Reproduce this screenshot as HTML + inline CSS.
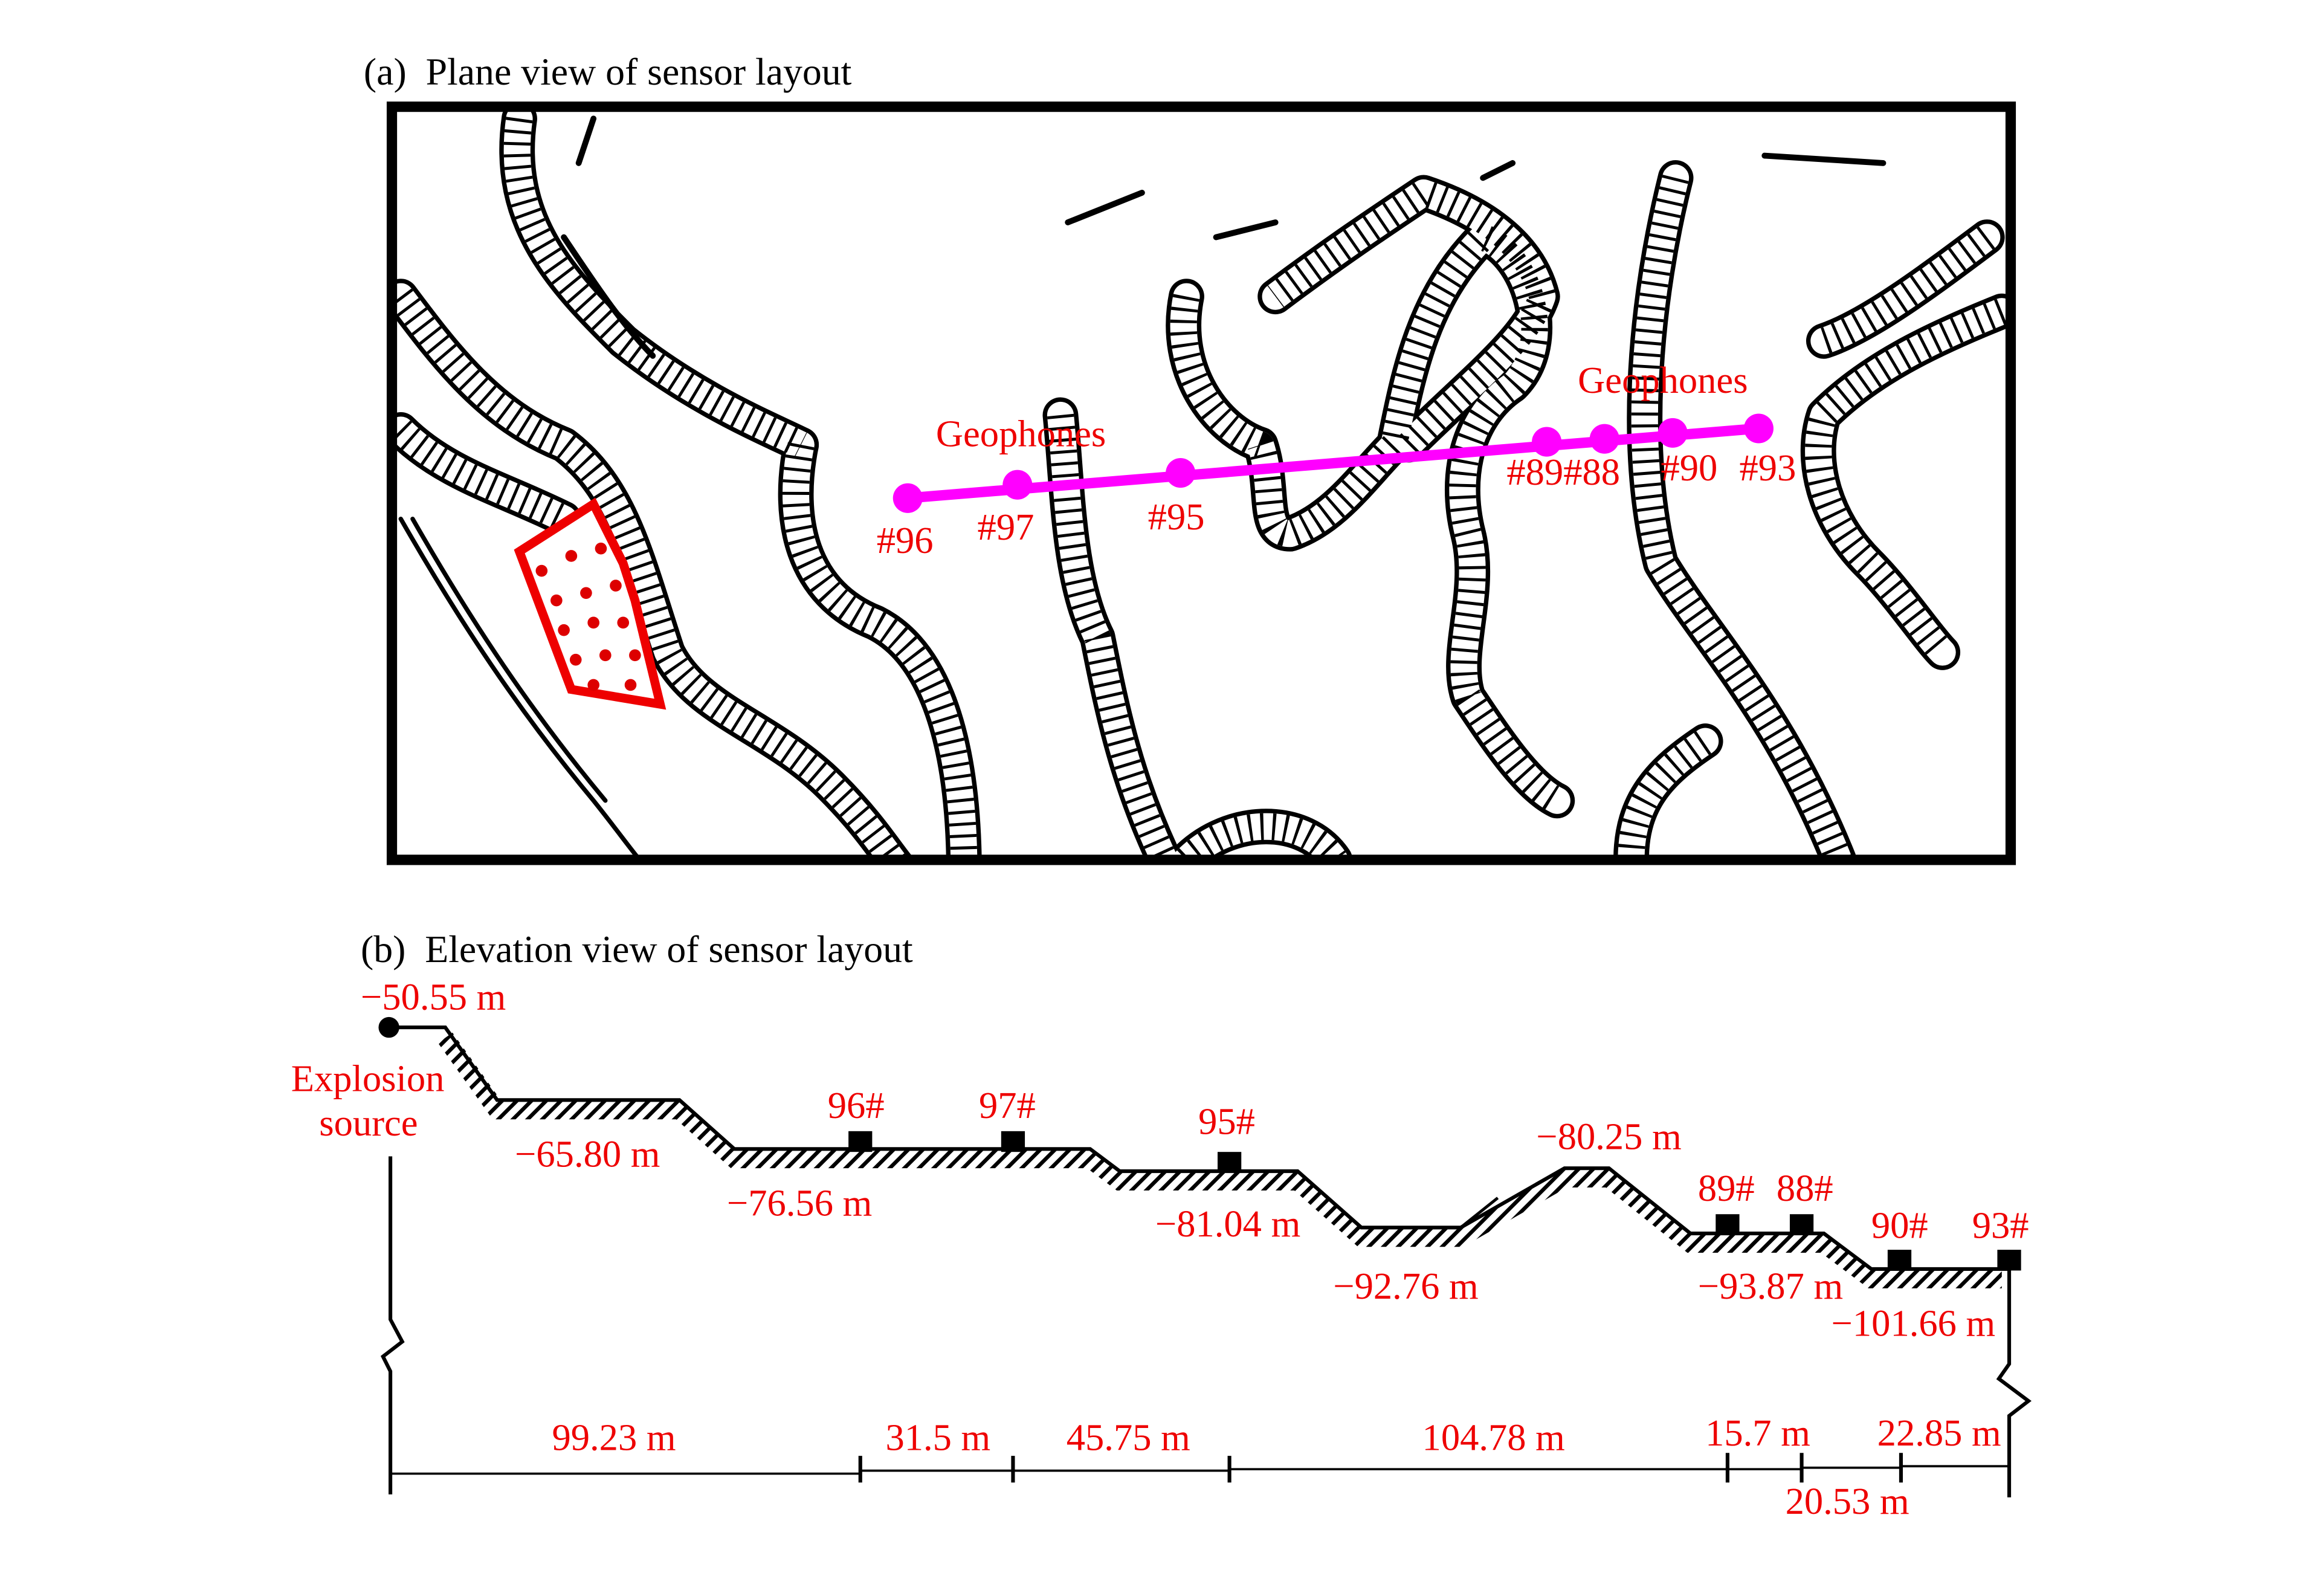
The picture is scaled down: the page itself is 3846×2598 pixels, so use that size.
<!DOCTYPE html>
<html><head><meta charset="utf-8"><style>
html,body{margin:0;padding:0;background:#fff;width:3846px;height:2598px;overflow:hidden}
svg{display:block}
text{font-family:"Liberation Serif",serif;white-space:pre}
</style></head><body>
<svg width="3846" height="2598" viewBox="0 0 1567 1059" xmlns="http://www.w3.org/2000/svg">
<defs>
<pattern id="diag" width="7" height="7" patternUnits="userSpaceOnUse" patternTransform="rotate(45)">
<rect width="7" height="7" fill="#fff"/><rect width="2.6" height="7" fill="#000"/></pattern>
<clipPath id="frame"><rect x="266" y="74" width="1088" height="504"/></clipPath>
</defs>
<rect width="1567" height="1059" fill="#fff"/>
<text x="245" y="57" font-size="26" xml:space="preserve">(a)  Plane view of sensor layout</text>
<g clip-path="url(#frame)" fill="none" stroke-linejoin="round" stroke-linecap="round">
<g id="bands">
<path d="M350,80 C340,150 380,190 420,230 C470,270 520,290 540,300"/>
<path d="M270,200 C300,240 330,280 380,300 C420,330 430,380 450,440 C470,480 520,490 560,530 C590,560 600,580 610,590"/>
<path d="M270,290 C300,320 340,330 380,350"/>
<path d="M540,300 C530,350 540,400 590,420 C630,440 650,500 650,590"/>
<path d="M715,280 C720,330 720,390 740,430 C750,480 760,530 790,590"/>
<path d="M800,200 C790,250 820,290 850,300 C860,330 850,360 870,360 C900,350 920,320 940,300 C950,250 960,200 1000,160 C1030,170 1050,230 1020,260 C990,280 980,320 990,360 C1000,400 980,440 990,470 C1010,500 1030,530 1050,540"/>
<path d="M1130,120 C1110,200 1100,300 1120,380 C1150,430 1200,480 1240,580"/>
<path d="M1350,210 C1300,230 1260,250 1230,280 C1220,310 1230,350 1260,380 C1280,400 1300,430 1310,440"/>
<path d="M1340,160 C1300,190 1260,220 1230,230"/>
<path d="M950,300 C990,260 1030,230 1040,200 C1030,160 990,140 960,130 C930,150 900,170 860,200"/>
<path d="M800,580 C830,550 880,550 900,580"/>
<path d="M1100,580 C1100,540 1120,520 1150,500"/>
</g>
<use href="#bands" stroke="#000" stroke-width="24"/>
<use href="#bands" stroke="#fff" stroke-width="18"/>
<use href="#bands" stroke="#000" stroke-width="18" stroke-dasharray="2 6" stroke-linecap="butt"/>
<path d="M400,80 L390,110 M380,160 C400,190 420,220 440,240 M720,150 L770,130 M820,160 L860,150 M1000,120 L1020,110 M1190,105 L1270,110" stroke="#000" stroke-width="4"/>
<path d="M270,350 C310,420 350,480 400,540 C420,565 430,580 440,590" stroke="#000" stroke-width="3"/>
<path d="M278,350 C318,420 358,480 408,540" stroke="#000" stroke-width="3"/>
</g>
<polygon points="350,372 400,340 420,380 428,405 445,475 385,465" fill="#fff" stroke="#e00" stroke-width="6"/>
<g fill="#d00">
<circle cx="365" cy="385" r="4"/><circle cx="385" cy="375" r="4"/><circle cx="405" cy="370" r="4"/>
<circle cx="375" cy="405" r="4"/><circle cx="395" cy="400" r="4"/><circle cx="415" cy="395" r="4"/>
<circle cx="380" cy="425" r="4"/><circle cx="400" cy="420" r="4"/><circle cx="420" cy="420" r="4"/>
<circle cx="388" cy="445" r="4"/><circle cx="408" cy="442" r="4"/><circle cx="428" cy="442" r="4"/>
<circle cx="400" cy="462" r="4"/><circle cx="425" cy="462" r="4"/>
</g>
<rect x="264" y="72" width="1092" height="508" fill="none" stroke="#000" stroke-width="7"/>
<line x1="612" y1="336" x2="1186" y2="289" stroke="#f0f" stroke-width="7"/>
<g fill="#f0f">
<circle cx="612" cy="336" r="10"/><circle cx="686" cy="327" r="10"/><circle cx="796" cy="319" r="10"/>
<circle cx="1043" cy="298" r="10"/><circle cx="1082" cy="296" r="10"/><circle cx="1128" cy="292" r="10"/><circle cx="1186" cy="289" r="10"/>
</g>
<g fill="#e00" font-size="25.5">
<text x="631" y="301">Geophones</text><text x="1064" y="265">Geophones</text>
<text x="591" y="373">#96</text><text x="659" y="364">#97</text><text x="774" y="357">#95</text>
<text x="1016" y="327">#89#88</text><text x="1120" y="324">#90</text><text x="1173" y="324">#93</text>
</g>
<text x="243" y="649" font-size="26" xml:space="preserve">(b)  Elevation view of sensor layout</text>
<g fill="none">
<polyline points="300,700 335,749 458,749 495,782 735,782 755,797 875,797 918,835 985,835 1055,795 1085,795 1140,839 1230,839 1262,863 1350,863" stroke="url(#diag)" stroke-width="12"/>
<polyline points="262,693 300,693 335,742 458,742 495,775 735,775 755,790 875,790 918,828 985,828 1055,788 1085,788 1140,832 1230,832 1262,856 1355,856" stroke="#000" stroke-width="2.5"/>
<path d="M985,828 L1010,808" stroke="#000" stroke-width="2"/>
</g>
<circle cx="262" cy="693" r="7" fill="#000"/>
<g fill="#000"><rect x="572" y="763" width="16" height="14"/><rect x="675" y="763" width="16" height="14"/><rect x="821" y="777" width="16" height="14"/><rect x="1157" y="819" width="16" height="14"/><rect x="1207" y="819" width="16" height="14"/><rect x="1273" y="843" width="16" height="14"/><rect x="1347" y="843" width="16" height="14"/></g>
<g fill="none" stroke="#000" stroke-width="2.5">
<path d="M263,780 L263,890 L271,905 L258,915 L263,925 L263,1008"/>
<path d="M1355,856 L1355,920 L1348,930 L1368,945 L1355,955 L1355,1010"/>
</g>
<g stroke="#000" stroke-width="1.5" fill="none">
<line x1="263" y1="994" x2="580" y2="994"/><line x1="580" y1="992" x2="683" y2="992"/><line x1="683" y1="992" x2="829" y2="992"/>
<line x1="829" y1="991" x2="1165" y2="991"/><line x1="1165" y1="991" x2="1215" y2="991"/><line x1="1215" y1="990" x2="1282" y2="990"/><line x1="1282" y1="989" x2="1355" y2="989"/>
</g>
<g stroke="#000" stroke-width="2.5">
<line x1="580" y1="982" x2="580" y2="1000"/><line x1="683" y1="982" x2="683" y2="1000"/><line x1="829" y1="982" x2="829" y2="1000"/>
<line x1="1165" y1="980" x2="1165" y2="1000"/><line x1="1215" y1="980" x2="1215" y2="1000"/><line x1="1282" y1="980" x2="1282" y2="1000"/>
</g>
<g fill="#e00" font-size="25.5">
<text x="243" y="681">−50.55 m</text>
<text x="196" y="736">Explosion</text><text x="215" y="766">source</text>
<text x="347" y="787">−65.80 m</text><text x="490" y="820">−76.56 m</text><text x="779" y="834">−81.04 m</text>
<text x="899" y="876">−92.76 m</text><text x="1036" y="775">−80.25 m</text><text x="1145" y="876">−93.87 m</text><text x="1235" y="901">−101.66 m</text>
<text x="558" y="754">96#</text><text x="660" y="754">97#</text><text x="808" y="765">95#</text>
<text x="1145" y="810">89#</text><text x="1198" y="810">88#</text><text x="1262" y="835">90#</text><text x="1330" y="835">93#</text>
<text x="372" y="978">99.23 m</text><text x="597" y="978">31.5 m</text><text x="719" y="978">45.75 m</text>
<text x="959" y="978">104.78 m</text><text x="1150" y="975">15.7 m</text><text x="1266" y="975">22.85 m</text><text x="1204" y="1021">20.53 m</text>
</g>
</svg>
</body></html>
